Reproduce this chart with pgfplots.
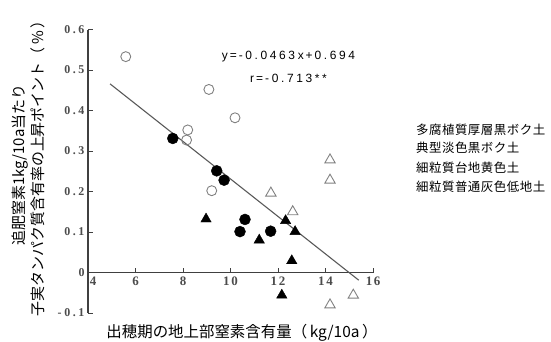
\documentclass[border=0pt]{standalone}
\usepackage{fontspec}
\usepackage{pgfplots}
\pgfplotsset{compat=1.18}
\setmainfont{Liberation Serif}
\newfontfamily\cjk{Noto Sans CJK JP}
\newfontfamily\cjkleg{Noto Sans CJK JP}[LetterSpace=4]
\newfontfamily\sans{Liberation Sans}[LetterSpace=22]
\newfontfamily\tickx{Liberation Serif}[LetterSpace=12]
\newfontfamily\ticky{Liberation Serif}[LetterSpace=22]
\begin{document}
\begin{tikzpicture}
\useasboundingbox (-88bp,-29bp) rectangle (463bp,313bp);
\begin{axis}[
  at={(0,0)}, anchor=south west,
  width=285bp, height=283.5bp, scale only axis,
  xmin=4, xmax=16, ymin=-0.1, ymax=0.6,
  axis x line=middle, axis y line=left,
  hide obscured x ticks=false, hide obscured y ticks=false,
  axis line style={-, draw=black!75, line width=1.2pt},
  xtick={4,6,8,10,12,14,16},
  xticklabels={\hspace*{10bp}4,6,8,10,12,14,16},
  ytick={-0.1,0,0.1,0.2,0.3,0.4,0.5,0.6},
  yticklabels={-0.1,0,0.1,0.2,0.3,0.4,0.5,0.6},
  tick align=inside,
  major tick length=5bp,
  tick style={draw=black!75, line width=1pt},
  xticklabel style={font=\tickx\fontsize{13}{15}\selectfont\bfseries, text=black!70, yshift=-1bp},
  yticklabel style={font=\ticky\fontsize{12}{14}\selectfont\bfseries, text=black!70},
  clip=false,
]
\addplot[draw=black!65, line width=1.1pt] coordinates {(4.93,0.4657) (15.4,-0.019)};
\addplot[only marks, mark=o, mark size=5bp, draw=black!50, mark options={line width=0.9pt}]
  coordinates {(5.59,0.533) (9.09,0.452) (10.19,0.382) (8.2,0.352) (8.15,0.327) (9.21,0.202)};
\addplot[only marks, mark=*, mark size=5.5bp, black]
  coordinates {(7.57,0.331) (9.42,0.251) (9.73,0.228) (10.61,0.131) (10.4,0.101) (11.69,0.102)};
\addplot[only marks, mark=triangle, mark size=6bp, draw=black!50, mark options={line width=0.9pt}]
  coordinates {(14.19,0.278) (14.19,0.228) (11.7,0.196) (12.62,0.150) (15.17,-0.056) (14.19,-0.080)};
\addplot[only marks, mark=triangle*, mark size=6bp, black]
  coordinates {(8.97,0.132) (12.32,0.128) (12.72,0.101) (11.21,0.080) (12.58,0.029) (12.16,-0.056)};
\end{axis}
\node[font=\sans\fontsize{12}{14}\selectfont] at (200.5bp,256bp) {y\,=\,-0.0463x\,+\,0.694};
\node[font=\sans\fontsize{12}{14}\selectfont] at (200.5bp,235bp) {r\,=\,-0.713**};
\begin{scope}[every node/.style={anchor=west, inner sep=0pt, font=\cjkleg\fontsize{12.5}{14}\selectfont}]
\node at (328bp,183bp) {多腐植質厚層黒ボク土};
\node at (328bp,165bp) {典型淡色黒ボク土};
\node at (328bp,145bp) {細粒質台地黄色土};
\node at (328bp,126bp) {細粒質普通灰色低地土};
\end{scope}
\node[rotate=90, inner sep=0pt, font=\cjk\fontsize{15}{17}\selectfont] at (-68bp,148bp) {追肥窒素1kg/10a当たり};
\node[rotate=90, inner sep=0pt, font=\cjk\fontsize{15}{17}\selectfont] at (-50bp,148bp) {子実タンパク質含有率の上昇ポイント（\,\%\,）};
\node[inner sep=0pt, font=\cjk\fontsize{15.5}{17}\selectfont] at (154bp,-20bp) {出穂期の地上部窒素含有量（\,kg/10a\,）};
\end{tikzpicture}
\end{document}
